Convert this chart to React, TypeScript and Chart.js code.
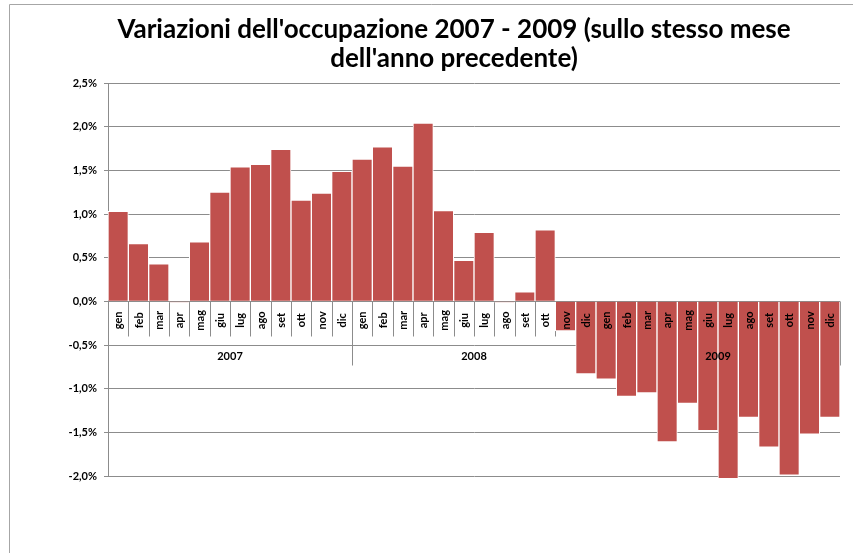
import React, { useEffect, useRef } from "react";
import { Chart, registerables } from "chart.js";

Chart.register(...registerables);

const titleLines = ["Variazioni dell'occupazione 2007 - 2009 (sullo stesso mese", "dell'anno precedente)"];
const months = ["gen", "feb", "mar", "apr", "mag", "giu", "lug", "ago", "set", "ott", "nov", "dic"];
const years = ["2007", "2008", "2009"];
const values2007 = [1.03, 0.66, 0.43, -0.01, 0.68, 1.25, 1.54, 1.57, 1.74, 1.16, 1.24, 1.49];
const values2008 = [1.63, 1.77, 1.55, 2.04, 1.04, 0.47, 0.79, -0.01, 0.11, 0.82, -0.34, -0.83];
const values2009 = [-0.89, -1.09, -1.05, -1.61, -1.17, -1.48, -2.03, -1.33, -1.67, -1.99, -1.52, -1.33];
const yMin = -2.0;
const yMax = 2.5;
const yStep = 0.5;

const FONT = "Lato, 'Open Sans', sans-serif";
const GRID = "#8c8c8c";

const framePlugin = {
  id: "frame",
  beforeDraw(chart: any) {
    const ctx = chart.ctx;
    ctx.save();
    ctx.fillStyle = "#ffffff";
    ctx.fillRect(0, 0, chart.width, chart.height);
    ctx.strokeStyle = "#a6a6a6";
    ctx.lineWidth = 1;
    ctx.beginPath();
    ctx.moveTo(9.5, chart.height + 2);
    ctx.lineTo(9.5, 4.5);
    ctx.lineTo(chart.width + 2, 4.5);
    ctx.stroke();
    ctx.restore();
  },
  afterDraw(chart: any) {
    const ctx = chart.ctx;
    ctx.save();
    ctx.fillStyle = "#000";
    ctx.font = `bold 26px ${FONT}`;
    ctx.textAlign = "center";
    ctx.textBaseline = "alphabetic";
    const cx = 454;
    titleLines.forEach((t, i) => ctx.fillText(t, cx, 38 + i * 29));
    ctx.restore();
  },
};

const multiAxisPlugin = {
  id: "multiAxis",
  beforeDatasetsDraw(chart: any) {
    const ctx = chart.ctx;
    const xs = chart.scales.x;
    const ys = chart.scales.y;
    const y0 = Math.round(ys.getPixelForValue(0)) + 0.5;
    const n = chart.data.labels.length;
    const area = chart.chartArea;
    ctx.save();
    ctx.strokeStyle = GRID;
    ctx.lineWidth = 1;
    for (let i = 1; i <= n; i++) {
      let x;
      if (i === n) x = area.right;
      else x = (xs.getPixelForValue(i - 1) + xs.getPixelForValue(i)) / 2;
      x = Math.round(x) + 0.5;
      const isYear = i % months.length === 0;
      ctx.beginPath();
      ctx.moveTo(x, y0);
      ctx.lineTo(x, y0 + (isYear ? 64 : 35));
      ctx.stroke();
    }
    ctx.restore();
  },
  afterDatasetsDraw(chart: any) {
    const ctx = chart.ctx;
    const xs = chart.scales.x;
    const ys = chart.scales.y;
    const y0 = ys.getPixelForValue(0);
    ctx.save();
    ctx.fillStyle = "#000";
    ctx.font = `bold 11px ${FONT}`;
    ctx.textAlign = "center";
    ctx.textBaseline = "middle";
    chart.data.labels.forEach((lab: string, i: number) => {
      const x = xs.getPixelForValue(i);
      ctx.save();
      ctx.translate(x + 0.5, y0 + 19);
      ctx.rotate(-Math.PI / 2);
      ctx.fillText(lab, 0, 0);
      ctx.restore();
    });
    ctx.font = `bold 11px ${FONT}`;
    years.forEach((yr, k) => {
      const a = xs.getPixelForValue(k * months.length);
      const b = xs.getPixelForValue((k + 1) * months.length - 1);
      ctx.fillText(yr, (a + b) / 2, y0 + 55);
    });
    ctx.restore();
  },
};

export default function App() {
  const ref = useRef<HTMLCanvasElement>(null);
  useEffect(() => {
    if (!ref.current) return;
    const labels = years.flatMap(() => months);
    const data = [...values2007, ...values2008, ...values2009];
    const chart = new Chart(ref.current, {
      type: "bar",
      data: {
        labels,
        datasets: [
          {
            data,
            backgroundColor: "#c0504d",
            borderColor: "#ffffff",
            borderWidth: 1,
            borderSkipped: "start",
            barPercentage: 1,
            categoryPercentage: 1,
            clip: false as any,
          },
        ],
      },
      options: {
        responsive: false,
        animation: false,
        devicePixelRatio: 1,
        layout: { padding: { left: 0, right: 13, top: 83, bottom: 77 } },
        plugins: {
          legend: { display: false },
          title: { display: false },
          tooltip: { enabled: false },
        },
        scales: {
          x: { display: false },
          y: {
            min: yMin,
            max: yMax,
            afterFit(scale: any) {
              scale.width = 108;
            },
            ticks: {
              stepSize: yStep,
              padding: 7,
              color: "#000",
              font: { family: FONT, size: 11, weight: "bold" },
              callback: (v: any) => Number(v).toFixed(1).replace(".", ",") + "%",
            },
            grid: { color: GRID, tickLength: 4, lineWidth: 1 },
            border: { display: true, color: GRID },
          },
        },
      },
      plugins: [framePlugin, multiAxisPlugin],
    });
    return () => chart.destroy();
  }, []);
  return (
    <div style={{ position: "absolute", left: 0, top: 0, width: 853, height: 553 }}>
      <canvas ref={ref} width={853} height={553} />
    </div>
  );
}
